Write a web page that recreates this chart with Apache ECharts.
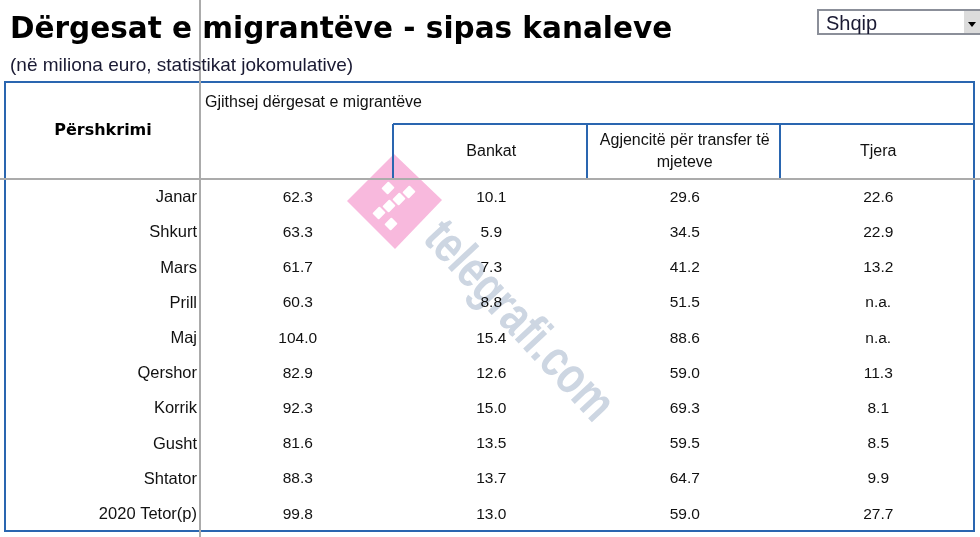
<!DOCTYPE html>
<html>
<head>
<meta charset="utf-8">
<style>html,body{margin:0;padding:0;background:#fff}#main{width:980px;height:537px}</style>
<script src="https://cdn.jsdelivr.net/npm/echarts@6/dist/echarts.min.js"></script>
</head>
<body>
<div id="main"></div>
<script>
const months = ['Janar', 'Shkurt', 'Mars', 'Prill', 'Maj', 'Qershor', 'Korrik', 'Gusht', 'Shtator', '2020 Tetor(p)']
const columns = ['', 'Bankat', 'Agjencitë për transfer të\nmjeteve', 'Tjera']
const total = [62.3, 63.3, 61.7, 60.3, 104.0, 82.9, 92.3, 81.6, 88.3, 99.8]
const banks = [10.1, 5.9, 7.3, 8.8, 15.4, 12.6, 15.0, 13.5, 13.7, 13.0]
const agencies = [29.6, 34.5, 41.2, 51.5, 88.6, 59.0, 69.3, 59.5, 64.7, 59.0]
const others = [22.6, 22.9, 13.2, 'n.a.', 'n.a.', 11.3, 8.1, 8.5, 9.9, 27.7]

const TEXT_FONT = 'Liberation Sans'
const BLUE = '#2a66b0'
const GREY = '#ababab'

const chart = echarts.init(document.getElementById('main'), null, { renderer: 'canvas' })

function column(values, idx) {
  return {
    type: 'scatter',
    symbolSize: 1,
    silent: true,
    z: 5,
    itemStyle: { color: 'transparent', opacity: 1 },
    label: {
      show: true,
      position: 'inside',
      color: '#111',
      fontFamily: TEXT_FONT,
      fontSize: 15.5,
      formatter: (p) => (typeof p.value[2] === 'number' ? p.value[2].toFixed(1) : p.value[2]),
    },
    data: values.map((v, i) => [idx, i, v]),
  }
}

function line(x1, y1, x2, y2, color, z) {
  return {
    type: 'line',
    shape: { x1, y1, x2, y2 },
    style: { stroke: color, lineWidth: 2 },
    z: z,
    silent: true,
  }
}

function whiteCell(x, y) {
  return {
    type: 'rect',
    x,
    y,
    rotation: Math.PI / 4,
    shape: { x: -5, y: -4.5, width: 10, height: 9, r: 1 },
    style: { fill: '#fff' },
    z: 2,
  }
}

chart.setOption({
  animation: false,
  title: {
    text: 'Dërgesat e migrantëve - sipas kanaleve',
    subtext: '(në miliona euro, statistikat jokomulative)',
    left: 10,
    top: 15,
    padding: 0,
    itemGap: 11,
    textStyle: { fontFamily: 'DejaVu Sans', fontWeight: 'bold', fontSize: 29.5, color: '#000' },
    subtextStyle: { fontFamily: TEXT_FONT, fontSize: 19, color: '#1a1a33' },
  },
  grid: { left: 201, top: 180, width: 774, height: 352 },
  xAxis: {
    type: 'category',
    position: 'top',
    data: columns,
    axisLine: { show: false },
    axisTick: { show: false },
    axisLabel: {
      color: '#111',
      fontFamily: TEXT_FONT,
      fontSize: 16,
      lineHeight: 22,
      margin: 28,
      verticalAlign: 'middle',
      interval: 0,
    },
  },
  yAxis: {
    type: 'category',
    inverse: true,
    data: months,
    axisLine: { show: false },
    axisTick: { show: false },
    axisLabel: { color: '#111', fontFamily: TEXT_FONT, fontSize: 16.5, margin: 4 },
  },
  series: [column(total, 0), column(banks, 1), column(agencies, 2), column(others, 3)],
  graphic: [
    // watermark
    {
      type: 'polygon',
      shape: { points: [[347, 201], [394, 154], [442, 200], [395, 249]] },
      style: { fill: '#f8b9dd' },
      z: 1,
    },
    whiteCell(388, 188),
    whiteCell(409, 192),
    whiteCell(399, 199),
    whiteCell(389, 206),
    whiteCell(379, 213),
    whiteCell(391, 224),
    {
      type: 'text',
      x: 518,
      y: 322,
      rotation: -0.82,
      scaleX: 0.78,
      style: {
        text: 'telegrafi.com',
        fill: '#cdd6e2',
        font: 'bold 52px "Liberation Sans"',
        align: 'center',
        verticalAlign: 'middle',
      },
      z: 1,
    },
    // table frame and header cells
    {
      type: 'rect',
      shape: { x: 5, y: 82, width: 969, height: 449 },
      style: { fill: 'transparent', stroke: BLUE, lineWidth: 2 },
      z: 3,
    },
    line(393, 124, 974, 124, BLUE, 3),
    line(393, 124, 393, 179, BLUE, 3),
    line(587, 124, 587, 179, BLUE, 3),
    line(780, 124, 780, 179, BLUE, 3),
    line(200, 0, 200, 537, GREY, 4),
    line(0, 179, 980, 179, GREY, 4),
    {
      type: 'text',
      x: 103,
      y: 131,
      style: {
        text: 'Përshkrimi',
        font: 'bold 16px "DejaVu Sans"',
        fill: '#000',
        align: 'center',
        verticalAlign: 'middle',
      },
      z: 5,
    },
    {
      type: 'text',
      x: 205,
      y: 103,
      style: {
        text: 'Gjithsej dërgesat e migrantëve',
        font: '16px "Liberation Sans"',
        fill: '#111',
        verticalAlign: 'middle',
      },
      z: 5,
    },
    // language select
    {
      type: 'rect',
      shape: { x: 818, y: 10, width: 162, height: 24 },
      style: { fill: '#fff', stroke: '#8b8f99', lineWidth: 2 },
      z: 3,
    },
    {
      type: 'rect',
      shape: { x: 964, y: 11, width: 16, height: 22 },
      style: { fill: '#dcdcdc' },
      z: 4,
    },
    {
      type: 'polygon',
      shape: { points: [[968, 22], [976, 22], [972, 27]] },
      style: { fill: '#000' },
      z: 5,
    },
    {
      type: 'text',
      x: 826,
      y: 24,
      style: {
        text: 'Shqip',
        font: '20px "Liberation Sans"',
        fill: '#1a1a33',
        verticalAlign: 'middle',
      },
      z: 5,
    },
  ],
})
</script>
</body>
</html>
